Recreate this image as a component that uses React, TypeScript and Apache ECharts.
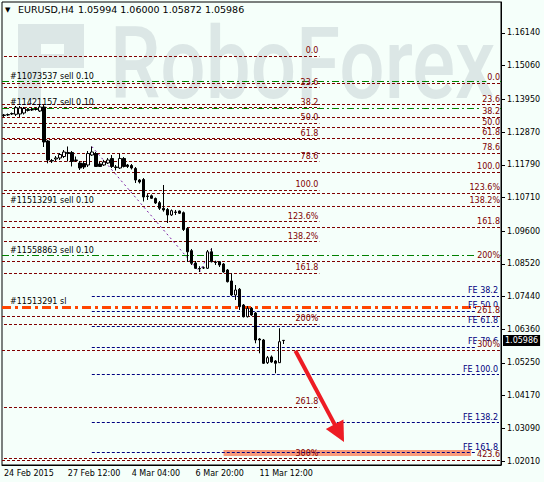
import React, { useEffect, useRef } from "react";
import * as echarts from "echarts";

const FONT = "DejaVu Sans";
const BG = "#F5FFFA";

const symbolName = "EURUSD,H4";
const timeLabels = ["24 Feb 2015", "27 Feb 12:00", "4 Mar 04:00", "6 Mar 20:00", "11 Mar 12:00"];
const labelStep = 16;
const barSlots = 125;

// [open, close, low, high]
const ohlc: number[][] = [
  [1.13416, 1.13433, 1.13367, 1.13466],
  [1.13433, 1.13449, 1.134, 1.13482],
  [1.13466, 1.13482, 1.13433, 1.13515],
  [1.13456, 1.13674, 1.134, 1.1373],
  [1.13466, 1.13664, 1.13367, 1.1373],
  [1.13499, 1.13647, 1.13449, 1.13697],
  [1.13581, 1.13614, 1.13548, 1.13647],
  [1.13598, 1.13614, 1.13565, 1.13664],
  [1.13614, 1.13631, 1.13581, 1.1368],
  [1.13565, 1.13697, 1.13532, 1.13796],
  [1.13697, 1.12542, 1.12376, 1.13763],
  [1.12575, 1.11947, 1.11838, 1.12608],
  [1.11931, 1.11914, 1.11848, 1.1198],
  [1.1198, 1.12013, 1.11914, 1.12079],
  [1.12013, 1.12128, 1.11947, 1.12178],
  [1.12062, 1.12211, 1.12013, 1.12277],
  [1.12194, 1.12161, 1.11898, 1.12393],
  [1.12194, 1.11898, 1.11733, 1.12244],
  [1.11947, 1.11931, 1.11881, 1.12062],
  [1.11848, 1.11683, 1.11617, 1.11914],
  [1.11832, 1.11716, 1.1165, 1.11914],
  [1.11782, 1.12161, 1.11716, 1.12244],
  [1.12112, 1.12211, 1.12079, 1.12393],
  [1.12161, 1.11733, 1.11716, 1.12211],
  [1.11815, 1.11733, 1.11716, 1.11881],
  [1.11782, 1.11881, 1.11749, 1.11947],
  [1.11848, 1.11947, 1.11815, 1.12013],
  [1.11997, 1.11733, 1.11683, 1.12112],
  [1.11716, 1.117, 1.11601, 1.11782],
  [1.11683, 1.11997, 1.1165, 1.12161],
  [1.11997, 1.11733, 1.117, 1.12046],
  [1.11782, 1.11733, 1.11683, 1.11815],
  [1.11766, 1.11683, 1.11634, 1.11815],
  [1.11667, 1.11287, 1.11188, 1.11716],
  [1.11287, 1.11221, 1.11172, 1.1132],
  [1.11303, 1.10726, 1.10577, 1.11353],
  [1.10759, 1.10742, 1.10627, 1.10825],
  [1.10766, 1.10683, 1.1066, 1.10808],
  [1.10676, 1.10528, 1.10495, 1.10709],
  [1.10538, 1.10353, 1.10297, 1.10594],
  [1.10353, 1.10297, 1.10241, 1.11122],
  [1.10313, 1.10132, 1.09867, 1.10363],
  [1.10132, 1.10274, 1.10099, 1.10313],
  [1.10231, 1.10214, 1.10132, 1.10297],
  [1.10264, 1.10188, 1.10165, 1.1028],
  [1.10208, 1.09653, 1.09603, 1.10247],
  [1.09689, 1.08917, 1.0858, 1.09735],
  [1.08953, 1.08537, 1.08481, 1.09009],
  [1.08547, 1.08372, 1.08349, 1.08613],
  [1.08366, 1.08349, 1.0825, 1.08442],
  [1.08382, 1.08389, 1.08349, 1.08432],
  [1.08372, 1.08917, 1.08349, 1.08976],
  [1.08917, 1.0859, 1.08564, 1.09032],
  [1.0858, 1.08564, 1.08481, 1.08623],
  [1.0859, 1.08481, 1.08415, 1.08613],
  [1.08514, 1.0825, 1.08224, 1.08547],
  [1.08316, 1.0793, 1.07903, 1.08349],
  [1.07953, 1.0749, 1.07457, 1.08207],
  [1.0749, 1.07655, 1.07325, 1.0782],
  [1.07678, 1.07104, 1.06995, 1.07721],
  [1.0716, 1.06774, 1.06747, 1.07193],
  [1.06774, 1.07051, 1.06747, 1.07127],
  [1.07051, 1.0683, 1.06797, 1.07094],
  [1.06896, 1.06005, 1.05896, 1.06929],
  [1.06038, 1.06005, 1.05566, 1.06071],
  [1.06005, 1.05236, 1.05212, 1.06038],
  [1.05256, 1.05421, 1.05212, 1.05477],
  [1.05444, 1.05279, 1.05252, 1.05494],
  [1.05311, 1.05236, 1.04905, 1.05344],
  [1.05256, 1.05949, 1.05245, 1.06391],
  [1.05994, 1.05986, 1.05872, 1.06],
];

const priceTicks = [1.1614, 1.1506, 1.1395, 1.1287, 1.1179, 1.1071, 1.096, 1.0852, 1.0744, 1.0636, 1.0525, 1.0417, 1.0309, 1.0201];
const priceMin = 1.01878;
const priceMax = 1.17163;

const fibLevels = [0, 23.6, 38.2, 50, 61.8, 78.6, 100, 123.6, 138.2, 161.8, 200, 261.8, 300, 423.6];
const fibNames = ["0.0", "23.6", "38.2", "50.0", "61.8", "78.6", "100.0", "123.6%", "138.2%", "161.8", "200%", "261.8", "300%", "423.6"];
const fibA0 = 1.15381;
const fibA100 = 1.10957;
const fibAEnd = 79;
const fibB0 = 1.14489;
const fibB100 = 1.11551;

const feLevels = [38.2, 50, 61.8, 78.6, 100, 138.2, 161.8];
const feNames = ["FE 38.2", "FE 50.0", "FE 61.8", "FE 78.6", "FE 100.0", "FE 138.2", "FE 161.8"];
const fe0 = 1.09049;
const fe100 = 1.04882;
const feStart = 22;
const fePath = [[22, 1.12393], [49, 1.0825], [52, 1.0903]];

const orderPrices = [1.14532, 1.13664, 1.10445, 1.08788];
const orderNames = ["#11073537 sell 0.10", "#11421157 sell 0.10", "#11513291 sell 0.10", "#11558863 sell 0.10"];
const orderLineShown = [true, true, false, true];
const slPrice = 1.07071;
const slName = "#11513291 sl";

const arrowFrom = [73, 1.0565];
const arrowTo = [84, 1.0293];
const zoneX = [55, 117];
const zoneMid = 1.0228;

const MAROON = "#800000";
const NAVY = "#000080";
const GREEN = "#008000";
const ORANGE = "#FF4500";
const WATER = "#dce7e6";
const CLEAR = "rgba(0,0,0,0)";

const lvl = (p0: number, p100: number, l: number) => p0 + ((p100 - p0) * l) / 100;
const inRange = (p: number) => p > priceMin && p < priceMax;
const txt = (color: string) => ({ color, fontFamily: FONT, fontSize: 8 });

export default function App() {
  const ref = useRef<HTMLDivElement>(null);
  useEffect(() => {
    if (!ref.current) return;
    const chart = echarts.init(ref.current, undefined, { renderer: "svg" });
    const categories = Array.from({ length: barSlots }, (_, i) => String(i));
    const last = ohlc[ohlc.length - 1];
    const quote = `${last[0].toFixed(5)} ${last[3].toFixed(5)} ${last[2].toFixed(5)} ${last[1].toFixed(5)}`;

    const fibAData = fibLevels
      .map((l, i) => ({ p: lvl(fibA0, fibA100, l), n: fibNames[i] }))
      .filter((d) => inRange(d.p))
      .map((d) => [
        { coord: [0, d.p], label: { formatter: d.n } },
        { coord: [fibAEnd, d.p] },
      ]);
    const fibBData = fibLevels
      .map((l, i) => ({ p: lvl(fibB0, fibB100, l), n: fibNames[i] }))
      .filter((d) => inRange(d.p))
      .map((d) => ({ yAxis: d.p, label: { formatter: d.n } }));
    const feData = feLevels
      .map((l, i) => ({ p: lvl(fe0, fe100, l), n: feNames[i] }))
      .map((d) => [
        { coord: [feStart, d.p], label: { formatter: d.n } },
        { coord: [barSlots - 1, d.p] },
      ]);
    const orderData = orderPrices.map((p, i) => ({
      yAxis: p,
      label: { formatter: orderNames[i] },
      lineStyle: orderLineShown[i] ? {} : { color: CLEAR },
    }));

    const hl = (color: string, type: any, width = 1) => ({ color, type, width });
    const logo = (x: number, y: number, width: number, height: number) => ({
      type: "rect",
      z: -10,
      silent: true,
      shape: { x, y, width, height },
      style: { fill: WATER },
    });

    chart.setOption({
      animation: false,
      backgroundColor: BG,
      grid: { left: 2, right: 43, top: 2, bottom: 17, show: true, borderColor: "#000", borderWidth: 1 },
      xAxis: {
        type: "category",
        data: categories,
        boundaryGap: true,
        axisLine: { lineStyle: { color: "#000" } },
        axisTick: {
          alignWithLabel: true,
          length: 4,
          interval: (i: number) => i % labelStep === 0 && i / labelStep < timeLabels.length,
          lineStyle: { color: "#000" },
        },
        axisLabel: {
          interval: (i: number) => i % labelStep === 0 && i / labelStep < timeLabels.length,
          formatter: (_v: string, i: number) => timeLabels[i / labelStep] ?? "",
          align: "left",
          margin: 4,
          ...txt("#000"),
        },
        splitLine: { show: false },
      },
      yAxis: {
        type: "value",
        position: "right",
        min: priceMin,
        max: priceMax,
        scale: true,
        axisLine: { show: true, lineStyle: { color: "#000" } },
        axisTick: { show: true, length: 4, customValues: priceTicks, lineStyle: { color: "#000" } },
        axisLabel: { customValues: priceTicks, formatter: (v: number) => v.toFixed(5), margin: 6, ...txt("#000") },
        splitLine: { show: false },
      },
      graphic: [
        {
          type: "text",
          z: -10,
          silent: true,
          x: 110,
          y: 14,
          scaleX: 0.8,
          style: { text: "RoboForex", fontFamily: "Roboto", fontWeight: 500, fontSize: 100, fill: WATER },
        },
        logo(18, 24, 23, 76),
        logo(18, 24, 66, 20),
        logo(64, 24, 20, 44),
        logo(41, 54, 43, 14),
        { type: "text", x: 5, y: 6, style: { text: "\u25BC", fontSize: 7, fontFamily: FONT, fill: "#000" } },
        { type: "text", x: 18, y: 4, style: { text: symbolName, fontSize: 9.5, fontFamily: FONT, fill: "#000" } },
        { type: "text", x: 78, y: 4, style: { text: quote, fontSize: 9.5, fontFamily: FONT, fill: "#000" } },
      ],
      series: [
        {
          type: "line",
          data: [],
          z: 1,
          markLine: {
            silent: true,
            precision: 6,
            symbol: "none",
            lineStyle: { color: "#F8997A", width: 6, type: "solid", cap: "butt" },
            label: { show: false },
            data: [[{ coord: [zoneX[0], zoneMid] }, { coord: [zoneX[1], zoneMid] }]],
          },
        },
        {
          type: "line",
          data: [],
          z: 2,
          markLine: {
            silent: true,
            precision: 6,
            symbol: "none",
            lineStyle: hl(GREEN, [7, 3, 2, 3]),
            label: { position: "insideStartTop", distance: [8, 1], ...txt("#000") },
            data: orderData,
          },
        },
        {
          type: "line",
          data: [],
          z: 3,
          markLine: {
            silent: true,
            precision: 6,
            symbol: "none",
            lineStyle: hl(MAROON, [3, 2]),
            label: { position: "insideEndTop", distance: [1, 1], ...txt(MAROON) },
            data: fibAData,
          },
        },
        {
          type: "line",
          data: [],
          z: 3,
          markLine: {
            silent: true,
            precision: 6,
            symbol: "none",
            lineStyle: hl(NAVY, [3, 2]),
            label: { position: "insideEndTop", distance: [1, 1], ...txt(NAVY) },
            data: feData,
          },
        },
        {
          type: "line",
          data: [],
          z: 3,
          markLine: {
            silent: true,
            precision: 6,
            symbol: "none",
            lineStyle: hl(MAROON, [3, 2]),
            label: {
              position: "insideEndTop",
              distance: [1, 1],
              backgroundColor: BG,
              padding: [0, 0, 0, 1],
              ...txt(MAROON),
            },
            data: fibBData,
          },
        },
        {
          type: "line",
          data: [],
          z: 4,
          markLine: {
            silent: true,
            precision: 6,
            symbol: "none",
            lineStyle: hl(ORANGE, [9, 4, 3, 4], 3),
            label: { position: "insideStartTop", distance: [8, 2], ...txt("#000") },
            data: [{ yAxis: slPrice, label: { formatter: slName } }],
          },
        },
        {
          type: "line",
          data: fePath,
          z: 4,
          symbol: "none",
          silent: true,
          lineStyle: { color: "#7B1FA2", width: 1, type: [2, 3] },
        },
        {
          type: "candlestick",
          data: ohlc,
          z: 5,
          barWidth: 3,
          silent: true,
          itemStyle: { color: "#ffffff", color0: "#000000", borderColor: "#000000", borderColor0: "#000000", borderWidth: 1 },
          markLine: {
            silent: true,
            precision: 6,
            symbol: "none",
            lineStyle: { color: CLEAR, width: 0 },
            label: {
              show: true,
              position: "end",
              distance: 2,
              backgroundColor: "#000",
              padding: [2, 2, 1, 2],
              formatter: (p: any) => Number(p.value).toFixed(5),
              ...txt("#fff"),
            },
            data: [{ yAxis: last[1] }],
          },
        },
        {
          type: "line",
          data: [],
          z: 6,
          markLine: {
            silent: true,
            precision: 6,
            symbol: ["none", "triangle"],
            symbolSize: 20,
            lineStyle: { color: "#ED1C24", width: 4, type: "solid" },
            label: { show: false },
            data: [[{ coord: arrowFrom }, { coord: arrowTo }]],
          },
        },
      ],
    });
    return () => chart.dispose();
  }, []);
  return <div ref={ref} style={{ position: "fixed", left: 0, top: 0, width: 544, height: 482 }} />;
}
